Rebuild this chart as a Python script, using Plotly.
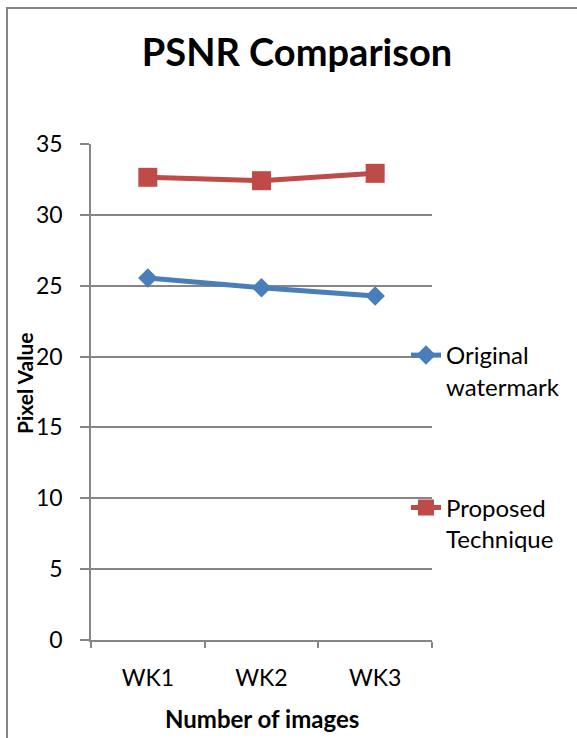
import plotly.graph_objects as go

categories = ["WK1", "WK2", "WK3"]
original_watermark = [25.55, 24.86, 24.27]
proposed_technique = [32.65, 32.41, 32.93]
y_ticks = [0, 5, 10, 15, 20, 25, 30, 35]

FONT = "Lato"
GRID = "#868686"

# plot area in pixels
L, R, T, B = 91, 432, 144, 640
W, H = 577, 738


def px_x(p):
    return (p - L) / (R - L)


def px_y(p):
    return (B - p) / (B - T)


fig = go.Figure()
fig.add_trace(go.Scatter(
    x=categories, y=original_watermark, mode="lines+markers",
    name="Original<br>watermark", legendgroup="a",
    line=dict(color="#4A7EBB", width=5),
    marker=dict(symbol="diamond", size=15, color="#4A7EBB"),
))
fig.add_trace(go.Scatter(
    x=categories, y=proposed_technique, mode="lines+markers",
    name="Proposed<br>Technique", legendgroup="b",
    line=dict(color="#BE4B48", width=5),
    marker=dict(symbol="square", size=19, color="#BE4B48"),
))

fig.update_layout(
    width=W, height=H,
    margin=dict(l=L, r=W - R, t=T, b=H - B),
    paper_bgcolor="white", plot_bgcolor="white",
    font=dict(family=FONT, color="black", size=22),
    title=dict(text="<b>PSNR Comparison</b>", x=297 / W, xanchor="center",
               y=1 - 53 / H, yanchor="middle",
               font=dict(family=FONT, size=38, color="black")),
    showlegend=True,
    legend=dict(x=px_x(406), xanchor="left", y=px_y(333), yanchor="top",
                bgcolor="rgba(0,0,0,0)", traceorder="grouped", tracegroupgap=87,
                valign="top", font=dict(family=FONT, size=24, color="black")),
    xaxis=dict(
        type="category", range=[-0.5, 2.5], showgrid=False,
        showline=True, linecolor=GRID, linewidth=1.5,
        ticks="outside", tickson="boundaries", ticklen=6, tickcolor=GRID, tickwidth=1.5,
        tickfont=dict(family=FONT, size=23), ticklabelstandoff=17,
    ),
    yaxis=dict(
        range=[0, 35], tickvals=y_ticks, showgrid=True, gridcolor=GRID, gridwidth=1.5,
        showline=True, linecolor=GRID, linewidth=1.5, zeroline=False,
        ticks="outside", ticklen=9, tickcolor=GRID, tickwidth=1.5,
        tickfont=dict(family=FONT, size=23), ticklabelstandoff=13,
    ),
)

# axis titles
fig.add_annotation(text="<b>Number of images</b>", xref="paper", yref="paper",
                   x=0.5, y=px_y(718), xanchor="center", yanchor="middle",
                   showarrow=False, font=dict(family=FONT, size=24, color="black"))
fig.add_annotation(text="<b>Pixel Value</b>", xref="paper", yref="paper",
                   x=px_x(24), y=px_y(384), xanchor="center", yanchor="middle",
                   textangle=-90, showarrow=False,
                   font=dict(family=FONT, size=21, color="black"))

# chart frame
fig.add_shape(type="rect", xref="paper", yref="paper",
              x0=px_x(7), x1=1.6, y0=-0.4, y1=px_y(8),
              line=dict(color="#868686", width=2), fillcolor="rgba(0,0,0,0)", layer="below")

fig.write_html("out.html")
